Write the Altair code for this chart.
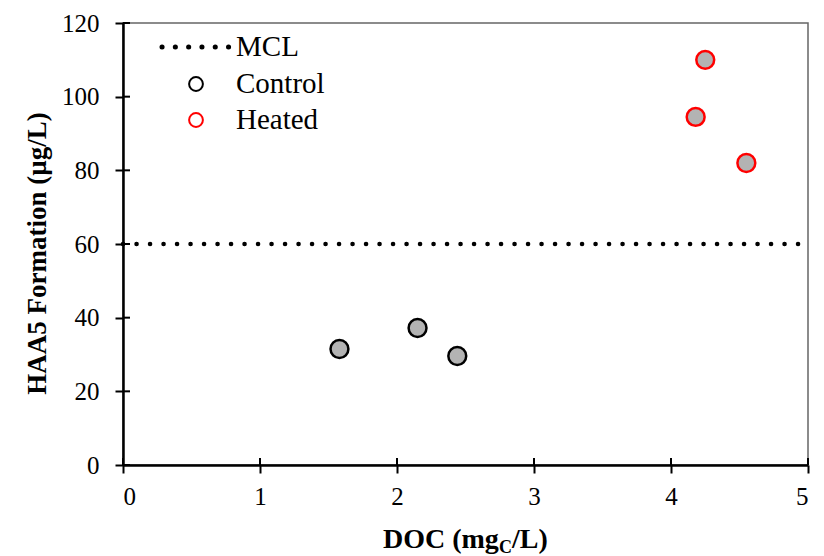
import altair as alt
import pandas as pd

# ---- data ----
control_doc = [1.58, 2.15, 2.44]
control_haa5 = [31.5, 37.2, 29.6]
heated_doc = [4.25, 4.18, 4.55]
heated_haa5 = [110.0, 94.5, 82.0]
mcl_value = 60
x_ticks = [0, 1, 2, 3, 4, 5]
y_ticks = [0, 20, 40, 60, 80, 100, 120]

FONT = "Liberation Serif"
W, H = 685, 442

pts = pd.DataFrame({
    "doc": control_doc + heated_doc,
    "haa5": control_haa5 + heated_haa5,
    "group": ["Control"] * 3 + ["Heated"] * 3,
})

xs = alt.Scale(domain=[0, 5], nice=False, zero=False)
ys = alt.Scale(domain=[0, 120], nice=False, zero=False)

xaxis = alt.Axis(values=x_ticks, title=None, grid=False, domainColor="black",
                 domainWidth=2.5, tickColor="black", tickWidth=2, tickSize=8,
                 labelFont=FONT, labelFontSize=25, labelColor="black",
                 labelPadding=11, format="d")
yaxis = alt.Axis(values=y_ticks, grid=False, domainColor="black",
                 domainWidth=2.5, tickColor="black", tickWidth=2, tickSize=8,
                 labelFont=FONT, labelFontSize=25, labelColor="black",
                 labelPadding=16, format="d",
                 title="HAA5 Formation (µg/L)", titleFont=FONT, titleFontSize=27,
                 titleFontWeight="bold", titleColor="black",
                 titleX=-86, titleY=230, titleAngle=-90, titleBaseline="middle",
                 titleAlign="center")

points = alt.Chart(pts).mark_point(
    shape="circle", filled=True, size=320, fill="#b3b3b3", strokeWidth=2.5, opacity=1
).encode(
    x=alt.X("doc:Q", scale=xs, axis=xaxis),
    y=alt.Y("haa5:Q", scale=ys, axis=yaxis),
    stroke=alt.Stroke("group:N", scale=alt.Scale(domain=["Control", "Heated"],
                                                  range=["black", "#ff0000"]), legend=None),
)

mcl = alt.Chart(pd.DataFrame({"y": [mcl_value], "x0": [0], "x1": [5]})).mark_rule(
    color="black", strokeWidth=4.5, strokeDash=[0.1, 13.4], strokeCap="round"
).encode(x=alt.X("x0:Q", scale=xs), x2="x1:Q", y=alt.Y("y:Q", scale=ys))

in_y = alt.Chart(pd.DataFrame({"v": y_ticks})).mark_rule(color="black", strokeWidth=2).encode(
    y=alt.Y("v:Q", scale=ys), x=alt.value(0), x2=alt.value(7))
in_x = alt.Chart(pd.DataFrame({"v": x_ticks})).mark_rule(color="black", strokeWidth=2).encode(
    x=alt.X("v:Q", scale=xs), y=alt.value(H), y2=alt.value(H - 7))

# legend
leg_line = alt.Chart(pd.DataFrame({"a": [0]})).mark_rule(
    color="black", strokeWidth=5, strokeDash=[0.1, 13.2], strokeCap="round"
).encode(x=alt.value(39), x2=alt.value(108), y=alt.value(24))
leg_c = alt.Chart(pd.DataFrame({"a": [0]})).mark_point(
    shape="circle", size=190, stroke="black", strokeWidth=2, filled=False, opacity=1
).encode(x=alt.value(73), y=alt.value(61))
leg_h = alt.Chart(pd.DataFrame({"a": [0]})).mark_point(
    shape="circle", size=190, stroke="#ff0000", strokeWidth=2, filled=False, opacity=1
).encode(x=alt.value(73), y=alt.value(97))
leg_text = alt.Chart(pd.DataFrame({"t": ["MCL", "Control", "Heated"], "yy": [24, 61, 97]})).mark_text(
    font=FONT, fontSize=29, align="left", baseline="middle", color="black"
).encode(text="t:N", x=alt.value(113), y=alt.Y("yy:Q", scale=None))

# x title with subscript
t1 = alt.Chart(pd.DataFrame({"t": ["DOC (mg"]})).mark_text(
    font=FONT, fontSize=28, fontWeight="bold", align="left", baseline="alphabetic", color="black"
).encode(text="t:N", x=alt.value(260), y=alt.value(525))
t2 = alt.Chart(pd.DataFrame({"t": ["C"]})).mark_text(
    font=FONT, fontSize=18, fontWeight="bold", align="left", baseline="alphabetic", color="black"
).encode(text="t:N", x=alt.value(376), y=alt.value(530))
t3 = alt.Chart(pd.DataFrame({"t": ["/L)"]})).mark_text(
    font=FONT, fontSize=28, fontWeight="bold", align="left", baseline="alphabetic", color="black"
).encode(text="t:N", x=alt.value(389), y=alt.value(525))

chart = alt.layer(
    mcl, in_y, in_x, points, leg_line, leg_c, leg_h, leg_text, t1, t2, t3
).properties(
    width=W, height=H,
    autosize=alt.AutoSizeParams(type="none"),
    padding={"left": 123, "top": 23, "right": 16, "bottom": 91},
    background="white",
).configure_view(stroke="#666666", strokeWidth=1.5)

chart.save("out.html", embed_options={"renderer": "svg", "actions": False})
